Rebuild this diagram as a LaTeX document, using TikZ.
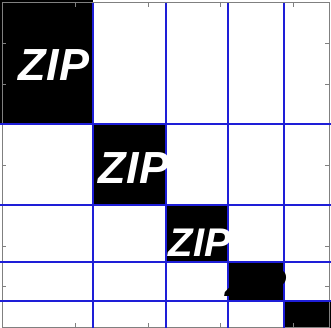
\documentclass[tikz,border=0pt]{standalone}
\usepackage{fontspec}
\setmainfont{Liberation Sans}
\definecolor{gridblue}{RGB}{30,30,215}
\definecolor{framegray}{RGB}{128,128,128}
\begin{document}
\begin{tikzpicture}[x=1pt,y=-1pt,
  blk/.style={fill=black,draw=none},
  gline/.style={draw=gridblue,line width=2.8pt},
  tick/.style={draw=framegray,line width=0.6pt},
  ziptext/.style={inner sep=0pt,font=\bfseries\itshape\fontsize{#1}{#1}\selectfont},
]
\useasboundingbox (0,0) rectangle (331,328);
\fill[white] (0,0) rectangle (331,328);
% diagonal blocks
\fill[blk] (0,0) rectangle (93,124);
\fill[blk] (93,124) rectangle (166,205);
\fill[blk] (166,205) rectangle (228,262);
\fill[blk] (228,262) rectangle (284,301);
\fill[blk] (284,301) rectangle (331,328);
% frame
\draw[draw=framegray,line width=1pt] (2,3) rectangle (329,327);
% ticks
\foreach \x in {75,148,220,293} {
  \draw[tick] (\x,3) -- (\x,7);
  \draw[tick] (\x,327) -- (\x,323);
}
\foreach \y in {43.5,84,124.5,165,205.5,246,286.5} {
  \draw[tick] (2,\y) -- (6,\y);
  \draw[tick] (329,\y) -- (325,\y);
}
% grid lines
\foreach \x in {93,166,228,284} \draw[gline] (\x,3) -- (\x,328);
\foreach \y in {124,205,262,301} \draw[gline] (0,\y) -- (331,\y);
% texts
\node[ziptext=45, text=white] (z1) at (54,65) {ZIP};
\node[ziptext=45, text=white] (z2) at (134,168) {ZIP};
\node[ziptext=40, text=white] (z3) at (200,243) {ZIP};
\node[ziptext=39, text=black] (z4) at (256,283) {ZIP};
\end{tikzpicture}
\end{document}
